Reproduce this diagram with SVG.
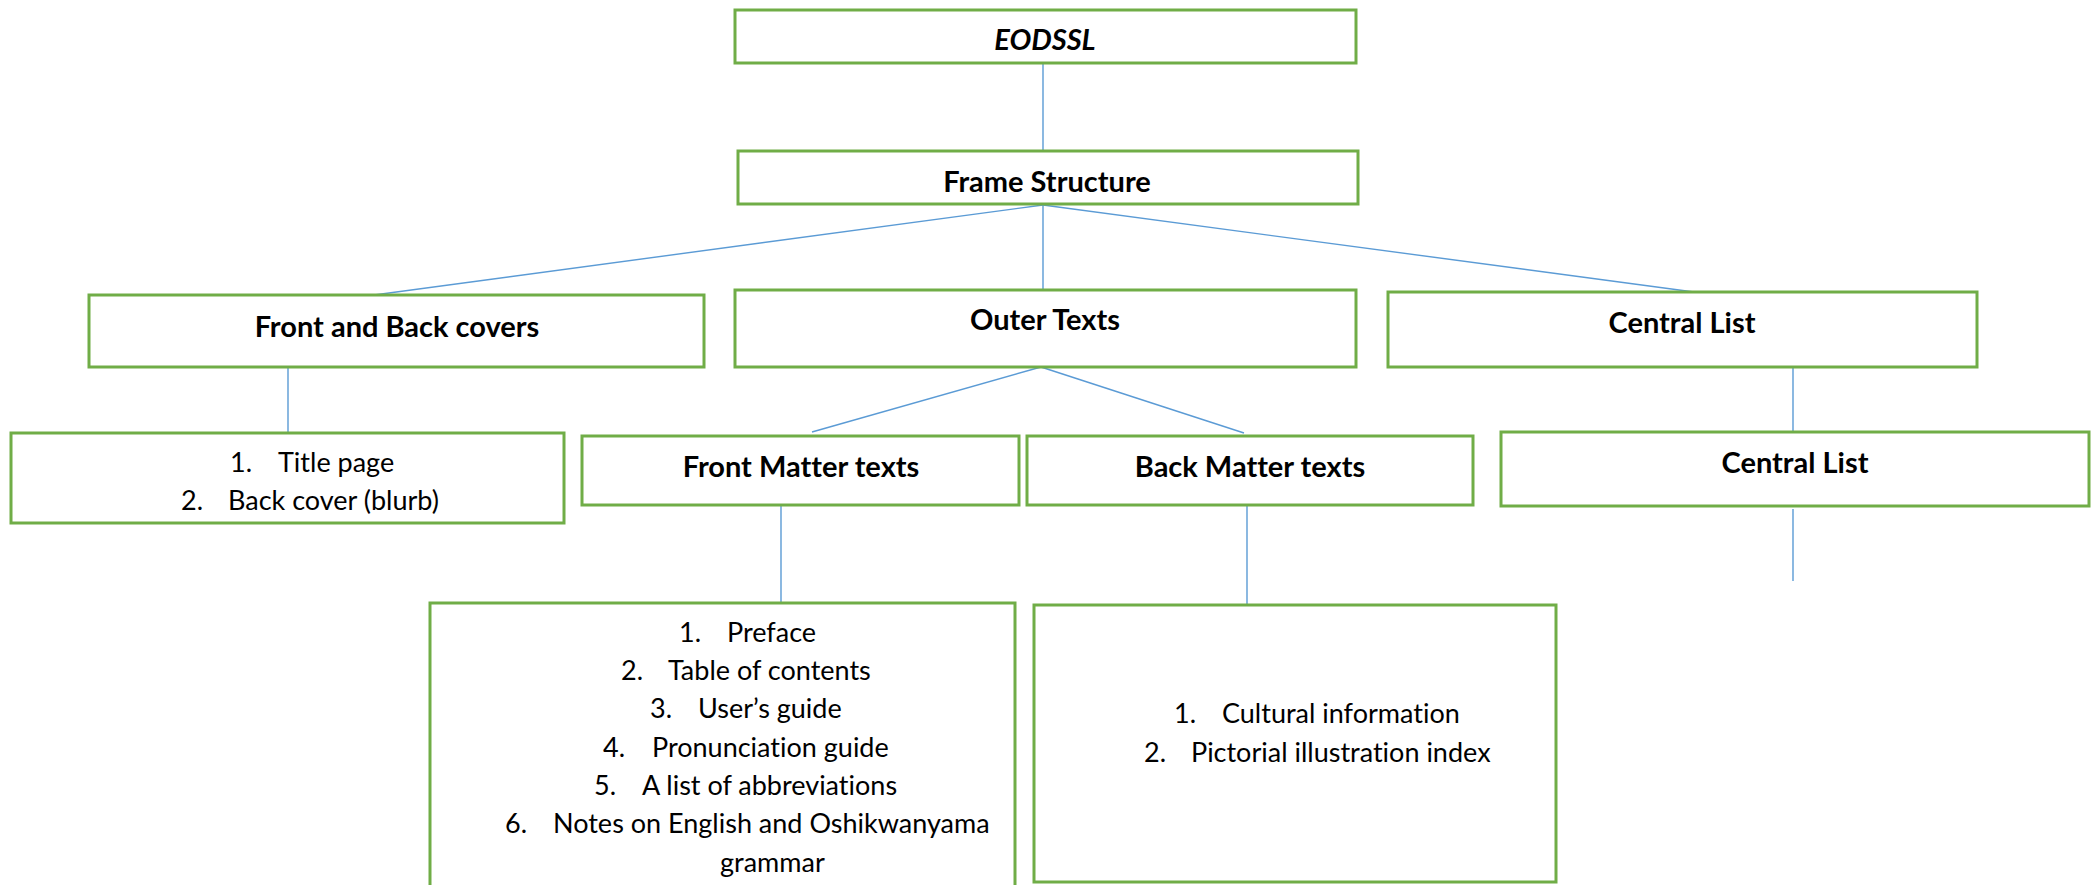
<svg xmlns="http://www.w3.org/2000/svg" width="2096" height="885" viewBox="0 0 2096 885">
  <style>
    .box { fill: #ffffff; stroke: #70AD47; stroke-width: 3; }
    .link { stroke: #5B9BD5; stroke-width: 1.4; fill: none; }
    text { font-variant-ligatures: none; font-feature-settings: "liga" 0, "clig" 0; }
    .title { font-family: Lato, "Liberation Sans", sans-serif; font-weight: 700; font-size: 29px; fill: #000000; text-anchor: middle; }
    .item { font-family: Lato, "Liberation Sans", sans-serif; font-weight: 400; font-size: 27px; fill: #000000; }
  </style>
  <rect width="2096" height="885" fill="#ffffff"/>

  <!-- connectors -->
  <g id="connectors">
    <line class="link" x1="1043" y1="63" x2="1043" y2="151"/>
    <line class="link" x1="1043" y1="205" x2="374" y2="295"/>
    <line class="link" x1="1043" y1="205" x2="1043" y2="290"/>
    <line class="link" x1="1043" y1="205" x2="1694" y2="292"/>
    <line class="link" x1="288" y1="367" x2="288" y2="433"/>
    <line class="link" x1="1041" y1="367" x2="812" y2="432"/>
    <line class="link" x1="1041" y1="367" x2="1244" y2="433"/>
    <line class="link" x1="1793" y1="367" x2="1793" y2="432"/>
    <line class="link" x1="781" y1="505" x2="781" y2="603"/>
    <line class="link" x1="1247" y1="505" x2="1247" y2="605"/>
    <line class="link" x1="1793" y1="509" x2="1793" y2="581"/>
  </g>

  <g id="eodssl">
    <rect class="box" x="735" y="10" width="621" height="53"/>
    <text class="title" x="1045" y="50" font-style="italic">EODSSL</text>
  </g>

  <g id="frame-structure">
    <rect class="box" x="738" y="151" width="620" height="53"/>
    <text class="title" x="1047" y="192">Frame Structure</text>
  </g>

  <g id="front-back-covers">
    <rect class="box" x="89" y="295" width="615" height="72"/>
    <text class="title" x="397" y="337">Front and Back covers</text>
  </g>

  <g id="outer-texts">
    <rect class="box" x="735" y="290" width="621" height="77"/>
    <text class="title" x="1045" y="330">Outer Texts</text>
  </g>

  <g id="central-list">
    <rect class="box" x="1388" y="292" width="589" height="75"/>
    <text class="title" x="1682" y="333">Central List</text>
  </g>

  <g id="covers-list">
    <rect class="box" x="11" y="433" width="553" height="90"/>
    <text class="item" y="472"><tspan x="230">1.</tspan><tspan x="278">Title page</tspan></text>
    <text class="item" y="510"><tspan x="181">2.</tspan><tspan x="228">Back cover (blurb)</tspan></text>
  </g>

  <g id="front-matter">
    <rect class="box" x="582" y="436" width="437" height="69"/>
    <text class="title" x="801" y="477">Front Matter texts</text>
  </g>

  <g id="back-matter">
    <rect class="box" x="1027" y="436" width="446" height="69"/>
    <text class="title" x="1250" y="477">Back Matter texts</text>
  </g>

  <g id="central-list-2">
    <rect class="box" x="1501" y="432" width="588" height="74"/>
    <text class="title" x="1795" y="473">Central List</text>
  </g>

  <g id="front-matter-list">
    <rect class="box" x="430" y="603" width="585" height="300"/>
    <text class="item" y="642"><tspan x="679">1.</tspan><tspan x="727">Preface</tspan></text>
    <text class="item" y="680"><tspan x="621">2.</tspan><tspan x="668">Table of contents</tspan></text>
    <text class="item" y="718"><tspan x="650">3.</tspan><tspan x="698">User’s guide</tspan></text>
    <text class="item" y="757"><tspan x="603">4.</tspan><tspan x="652">Pronunciation guide</tspan></text>
    <text class="item" y="795"><tspan x="594">5.</tspan><tspan x="642">A list of abbreviations</tspan></text>
    <text class="item" y="833"><tspan x="505">6.</tspan><tspan x="553">Notes on English and Oshikwanyama</tspan></text>
    <text class="item" y="872"><tspan x="720">grammar</tspan></text>
  </g>

  <g id="back-matter-list">
    <rect class="box" x="1034" y="605" width="522" height="277"/>
    <text class="item" y="723"><tspan x="1174">1.</tspan><tspan x="1222">Cultural information</tspan></text>
    <text class="item" y="762"><tspan x="1144">2.</tspan><tspan x="1191">Pictorial illustration index</tspan></text>
  </g>
</svg>
